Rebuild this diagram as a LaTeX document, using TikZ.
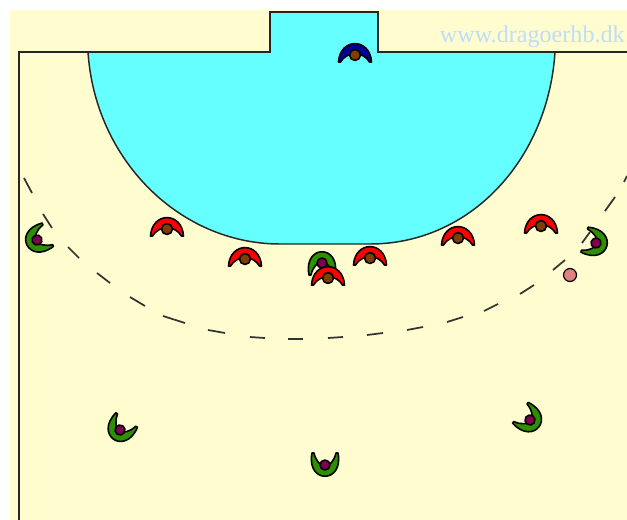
\documentclass[tikz,border=0pt]{standalone}
\usepackage{fontspec}
\setmainfont{Liberation Serif}
\definecolor{cream}{HTML}{FFFCCF}
\definecolor{goalcyan}{HTML}{66FFFF}
\definecolor{headbrown}{HTML}{7F3F00}
\definecolor{headpurple}{HTML}{7F0050}
\definecolor{teamgreen}{HTML}{2F8F00}
\definecolor{teamblue}{HTML}{000099}
\definecolor{ballpink}{HTML}{E08080}
\definecolor{webblue}{HTML}{BFDDFB}
\tikzset{
  courtline/.style={draw=black!85,line width=1.6pt,line join=miter},
  arealine/.style={draw=black!85,line width=1.1pt},
  dashline/.style={draw=black!80,line width=1.3pt},
  figure/.style={draw=black,line width=1.2pt,line join=round},
  domeplayer/.pic={
    \path[figure,fill=#1] (-16.5,7) .. controls (-15,-17.5) and (15,-17.5) .. (16.5,7)
      -- (14.5,7) .. controls (8,-4) and (-8,-4) .. (-14.5,7) -- cycle;
    \path[figure,fill=headbrown] (0,0) circle[radius=5.5];
  },
  cupplayer/.pic={
    \path[figure,fill=teamgreen] (-13,-12) .. controls (-19,19) and (19,19) .. (13,-12)
      -- (11,-12) .. controls (7,5) and (-7,5) .. (-11,-12) -- cycle;
    \path[figure,fill=headpurple] (0,0) circle[radius=5];
  },
}
\begin{document}
\begin{tikzpicture}[x=.75pt,y=-.75pt]
\useasboundingbox (0,0) rectangle (627,520);
\fill[white] (0,0) rectangle (627,520);
\fill[cream] (10,10) rectangle (627,520);
% goal area
\path[fill=goalcyan] (88,52) .. controls (95,160) and (180,244) .. (280,244)
  -- (370,244) .. controls (470,244) and (548,160) .. (555,52) -- (378,52) -- (378,12) -- (270,12) -- (270,52) -- cycle;
\path[arealine] (88,52) .. controls (95,160) and (180,244) .. (280,244)
  -- (370,244) .. controls (470,244) and (548,160) .. (555,52);
% court
\path[courtline] (19,520) -- (19,52) -- (270,52) -- (270,12) -- (378,12) -- (378,52) -- (627,52);
% free-throw line
\foreach \xa/\ya/\xb/\yb in {24/178/32/193,43/214/52/228,68/247/79/258,97/273/110/283,130/297/145/306,163/316/185/323,208/330/225/333,250/337/265/338,288/339/303/339,328/338/343/337,367/335/383/333,407/330/423/327,447/322/463/317,484/311/498/304,520/294/534/285,553/270/565/260,582/243/590/232,605/211/615/197,624/182/627/176}
  \path[dashline] (\xa,\ya) -- (\xb,\yb);
% text
\node[text=webblue,font=\fontsize{18.1pt}{20pt}\selectfont,inner sep=0pt,anchor=base east] (site) at (625,43) {www.dragoerhb.dk};
% attackers
\pic[rotate=-64] at (37,240) {cupplayer};
\pic[rotate=-34] at (120,430) {cupplayer};
\pic at (325,465) {cupplayer};
\pic[rotate=53] at (530,420) {cupplayer};
\pic[rotate=74] at (596,243) {cupplayer};
\pic[rotate=180] at (322,263) {cupplayer};
% ball
\path[figure,fill=ballpink,line width=.9pt] (570,275) circle[radius=6.5];
% defenders
\pic at (167,229) {domeplayer=red};
\pic at (245,259) {domeplayer=red};
\pic at (328,278) {domeplayer=red};
\pic at (370,258) {domeplayer=red};
\pic at (458,238) {domeplayer=red};
\pic at (541,226) {domeplayer=red};
% goalkeeper
\pic at (355,55) {domeplayer=teamblue};
\end{tikzpicture}
\end{document}
